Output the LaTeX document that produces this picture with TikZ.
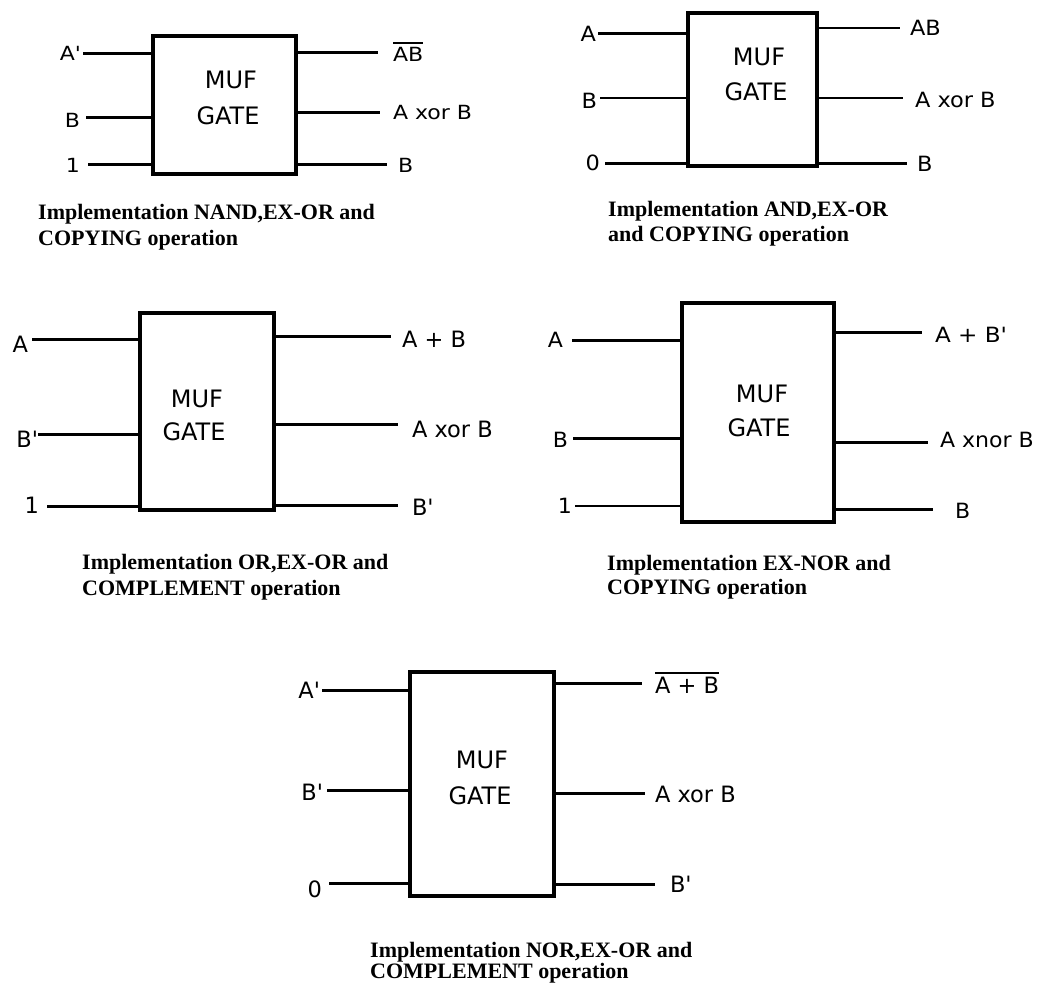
\documentclass[tikz,border=0pt]{standalone}
\usepackage{fontspec}
\usepackage{graphicx}
\newfontfamily\lbf{DejaVu Sans}
\newfontfamily\capf{Liberation Serif}
\newcommand\hs[2]{\scalebox{#1}[1]{#2}}
\newcommand\ovl[1]{\leavevmode\vbox{\hrule height 1.8pt\kern 2.6pt\hbox{#1}}}
\tikzset{
  gate/.style={draw, line width=3.8pt, inner sep=0pt, outer sep=0pt},
  wire/.style={line width=3pt},
  thinwire/.style={line width=1.8pt},
  lab/.style={inner sep=0pt, outer sep=0pt},
  fa/.style={font=\lbf\fontsize{19.5}{20}\selectfont},
  fb/.style={font=\lbf\fontsize{21}{22}\selectfont},
  fc/.style={font=\lbf\fontsize{22.5}{24}\selectfont},
  fd/.style={font=\lbf\fontsize{21}{22}\selectfont},
  fe/.style={font=\lbf\fontsize{22.5}{24}\selectfont},
  muf/.style={inner sep=0pt, anchor=base, font=\lbf\fontsize{24}{25}\selectfont},
  capt/.style={inner sep=0pt, anchor=base west, font=\capf\bfseries\fontsize{22}{24}\selectfont}
}
\begin{document}
\begin{tikzpicture}[x=1pt,y=-1pt]
\fill[white] (0,0) rectangle (1040,985);
\useasboundingbox (0,0) rectangle (1040,985);

% ---------- Diagram 1 ----------
\node[gate, minimum width=143pt, minimum height=138pt] (g1) at (224.5,105) {};
\node[muf] (g1m) at (231,88) {MUF};
\node[muf] (g1g) at (228,124) {GATE};
\coordinate (g1i1) at (83,53);
\coordinate (g1i2) at (86,117);
\coordinate (g1i3) at (88,164);
\draw[wire] (g1i1) -- (g1i1 -| g1.west);
\draw[wire] (g1i2) -- (g1i2 -| g1.west);
\draw[wire] (g1i3) -- (g1i3 -| g1.west);
\node[lab, fa, anchor=base east] (g1l1) at (81,60) {\hs{1.13}{A'}};
\node[lab, fa, anchor=base east] (g1l2) at (80,127) {\hs{1.13}{B}};
\node[lab, fa, anchor=base east] (g1l3) at (80,172) {\hs{1.13}{1}};
\coordinate (g1o1) at (378,52);
\coordinate (g1o2) at (380,112);
\coordinate (g1o3) at (387,164);
\draw[wire] (g1o1 -| g1.east) -- (g1o1);
\draw[wire] (g1o2 -| g1.east) -- (g1o2);
\draw[wire] (g1o3 -| g1.east) -- (g1o3);
\node[lab, fa, anchor=base west] (g1r1) at (393,61) {\hs{1.13}{\ovl{AB}}};
\node[lab, fa, anchor=base west] (g1r2) at (393,119) {\hs{1.13}{A xor B}};
\node[lab, fa, anchor=base west] (g1r3) at (398,172) {\hs{1.13}{B}};
\node[capt] (g1c1) at (38,219) {Implementation NAND,EX-OR and};
\node[capt] (g1c2) at (38,245) {COPYING operation};

% ---------- Diagram 2 ----------
\node[gate, minimum width=129pt, minimum height=153pt] (g2) at (752.5,89.5) {};
\node[muf] (g2m) at (759,65) {MUF};
\node[muf] (g2g) at (756,100) {GATE};
\coordinate (g2i1) at (598,33);
\coordinate (g2i2) at (600,98);
\coordinate (g2i3) at (605,163);
\draw[wire] (g2i1) -- (g2i1 -| g2.west);
\draw[thinwire] (g2i2) -- (g2i2 -| g2.west);
\draw[wire] (g2i3) -- (g2i3 -| g2.west);
\node[lab, fb, anchor=base east] (g2l1) at (596,41) {\hs{1.07}{A}};
\node[lab, fb, anchor=base east] (g2l2) at (597,108) {\hs{1.07}{B}};
\node[lab, fb, anchor=base east] (g2l3) at (600,170) {\hs{1.07}{0}};
\coordinate (g2o1) at (900,28);
\coordinate (g2o2) at (903,98);
\coordinate (g2o3) at (907,163);
\draw[thinwire] (g2o1 -| g2.east) -- (g2o1);
\draw[thinwire] (g2o2 -| g2.east) -- (g2o2);
\draw[wire] (g2o3 -| g2.east) -- (g2o3);
\node[lab, fb, anchor=base west] (g2r1) at (910,35) {\hs{1.07}{AB}};
\node[lab, fb, anchor=base west] (g2r2) at (915,107) {\hs{1.07}{A xor B}};
\node[lab, fb, anchor=base west] (g2r3) at (917,171) {\hs{1.07}{B}};
\node[capt] (g2c1) at (608,216) {Implementation AND,EX-OR};
\node[capt] (g2c2) at (608,241) {and COPYING operation};

% ---------- Diagram 3 ----------
\node[gate, minimum width=134pt, minimum height=197pt] (g3) at (207,411.5) {};
\node[muf] (g3m) at (197,407) {MUF};
\node[muf] (g3g) at (194,440) {GATE};
\coordinate (g3i1) at (32,339);
\coordinate (g3i2) at (38,434);
\coordinate (g3i3) at (47,506);
\draw[wire] (g3i1) -- (g3i1 -| g3.west);
\draw[wire] (g3i2) -- (g3i2 -| g3.west);
\draw[wire] (g3i3) -- (g3i3 -| g3.west);
\node[lab, fc, anchor=base east] (g3l1) at (28,352) {A};
\node[lab, fc, anchor=base east] (g3l2) at (38,447) {B'};
\node[lab, fc, anchor=base east] (g3l3) at (39,513) {1};
\coordinate (g3o1) at (391,336);
\coordinate (g3o2) at (398,424);
\coordinate (g3o3) at (398,505);
\draw[wire] (g3o1 -| g3.east) -- (g3o1);
\draw[wire] (g3o2 -| g3.east) -- (g3o2);
\draw[wire] (g3o3 -| g3.east) -- (g3o3);
\node[lab, fc, anchor=base west] (g3r1) at (402,347) {A + B};
\node[lab, fc, anchor=base west] (g3r2) at (412,437) {A xor B};
\node[lab, fc, anchor=base west] (g3r3) at (412,515) {B'};
\node[capt] (g3c1) at (82,569) {Implementation OR,EX-OR and};
\node[capt] (g3c2) at (82,595) {COMPLEMENT operation};

% ---------- Diagram 4 ----------
\node[gate, minimum width=152pt, minimum height=219pt] (g4) at (758,412.5) {};
\node[muf] (g4m) at (762,402) {MUF};
\node[muf] (g4g) at (759,436) {GATE};
\coordinate (g4i1) at (572,340);
\coordinate (g4i2) at (573,438);
\coordinate (g4i3) at (575,506);
\draw[wire] (g4i1) -- (g4i1 -| g4.west);
\draw[wire] (g4i2) -- (g4i2 -| g4.west);
\draw[thinwire] (g4i3) -- (g4i3 -| g4.west);
\node[lab, fd, anchor=base east] (g4l1) at (563,347) {\hs{1.05}{A}};
\node[lab, fd, anchor=base east] (g4l2) at (568,447) {\hs{1.05}{B}};
\node[lab, fd, anchor=base east] (g4l3) at (572,513) {\hs{1.05}{1}};
\coordinate (g4o1) at (922,332);
\coordinate (g4o2) at (928,442);
\coordinate (g4o3) at (933,509);
\draw[wire] (g4o1 -| g4.east) -- (g4o1);
\draw[wire] (g4o2 -| g4.east) -- (g4o2);
\draw[wire] (g4o3 -| g4.east) -- (g4o3);
\node[lab, fd, anchor=base west] (g4r1) at (935,342) {\hs{1.1}{A + B'}};
\node[lab, fd, anchor=base west] (g4r2) at (940,447) {\hs{1.05}{A xnor B}};
\node[lab, fd, anchor=base west] (g4r3) at (955,518) {\hs{1.05}{B}};
\node[capt] (g4c1) at (607,570) {Implementation EX-NOR and};
\node[capt] (g4c2) at (607,594) {COPYING operation};

% ---------- Diagram 5 ----------
\node[gate, minimum width=144pt, minimum height=224pt] (g5) at (482,784) {};
\node[muf] (g5m) at (482,768) {MUF};
\node[muf] (g5g) at (480,804) {GATE};
\coordinate (g5i1) at (322,690);
\coordinate (g5i2) at (327,790);
\coordinate (g5i3) at (329,883);
\draw[wire] (g5i1) -- (g5i1 -| g5.west);
\draw[wire] (g5i2) -- (g5i2 -| g5.west);
\draw[wire] (g5i3) -- (g5i3 -| g5.west);
\node[lab, fe, anchor=base east] (g5l1) at (320,698) {A'};
\node[lab, fe, anchor=base east] (g5l2) at (323,800) {B'};
\node[lab, fe, anchor=base east] (g5l3) at (322,897) {0};
\coordinate (g5o1) at (642,683);
\coordinate (g5o2) at (645,793);
\coordinate (g5o3) at (655,884);
\draw[wire] (g5o1 -| g5.east) -- (g5o1);
\draw[wire] (g5o2 -| g5.east) -- (g5o2);
\draw[wire] (g5o3 -| g5.east) -- (g5o3);
\node[lab, fe, anchor=base west] (g5r1) at (655,693) {\ovl{A + B}};
\node[lab, fe, anchor=base west] (g5r2) at (655,802) {A xor B};
\node[lab, fe, anchor=base west] (g5r3) at (670,892) {B'};
\node[capt] (g5c1) at (370,957) {Implementation NOR,EX-OR and};
\node[capt] (g5c2) at (370,978) {COMPLEMENT operation};
\end{tikzpicture}
\end{document}
